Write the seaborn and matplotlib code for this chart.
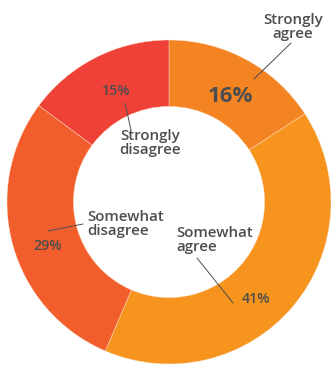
import matplotlib
matplotlib.use("Agg")
import matplotlib.pyplot as plt
import seaborn as sns

# Survey responses, clockwise from 12 o'clock
categories = ["Strongly agree", "Somewhat agree", "Somewhat disagree", "Strongly disagree"]
shares = [16, 41, 29, 15]
pct_labels = ["16%", "41%", "29%", "15%"]
colors = ["#F48322", "#F7941E", "#F15D2B", "#EF4137"]

sns.set_theme(style="white")
plt.rcParams["font.family"] = ["Open Sans", "DejaVu Sans"]

W, H = 331, 366
fig = plt.figure(figsize=(W / 100, H / 100), dpi=100)
ax = fig.add_axes([0, 0, 1, 1])

cx, cy, r_out = 169, H - 202, 162
ax.pie(shares, colors=colors, startangle=90, counterclock=False,
       center=(cx, cy), radius=r_out, frame=True,
       wedgeprops=dict(width=r_out * 0.41, edgecolor="#FBE3CF", linewidth=0.3))
ax.set_xlim(0, W)
ax.set_ylim(0, H)
ax.set_aspect("equal")
ax.axis("off")

txt = "#4D4D4F"
def P(x, y):
    return (x, H - y)

# category labels
lab_kw = dict(color=txt, fontsize=10.8, fontweight="semibold", linespacing=0.95)
ax.text(*P(293, 27), "Strongly\nagree", ha="center", va="center", **lab_kw)
ax.text(*P(150, 143), "Strongly\ndisagree", ha="center", va="center", **lab_kw)
ax.text(*P(87, 224), "Somewhat\ndisagree", ha="left", va="center", **lab_kw)
ax.text(*P(176, 240), "Somewhat\nagree", ha="left", va="center", **lab_kw)

# percentages
ax.text(*P(230, 96), pct_labels[0], ha="center", va="center", color=txt,
        fontsize=16, fontweight="bold")
pct_kw = dict(color=txt, fontsize=10.3, fontweight="semibold", ha="center", va="center")
ax.text(*P(116, 91), pct_labels[3], **pct_kw)
ax.text(*P(48, 246), pct_labels[2], **pct_kw)
ax.text(*P(256, 299), pct_labels[1], **pct_kw)

# leader lines
line_kw = dict(color=txt, linewidth=0.7)
for (x0, y0), (x1, y1) in [((254, 79), (291, 43)),
                           ((125, 103), (131, 130)),
                           ((48, 231), (83, 224)),
                           ((197, 258), (233, 303))]:
    ax.plot([x0, x1], [H - y0, H - y1], **line_kw)

fig.savefig("out.png", dpi=100)
